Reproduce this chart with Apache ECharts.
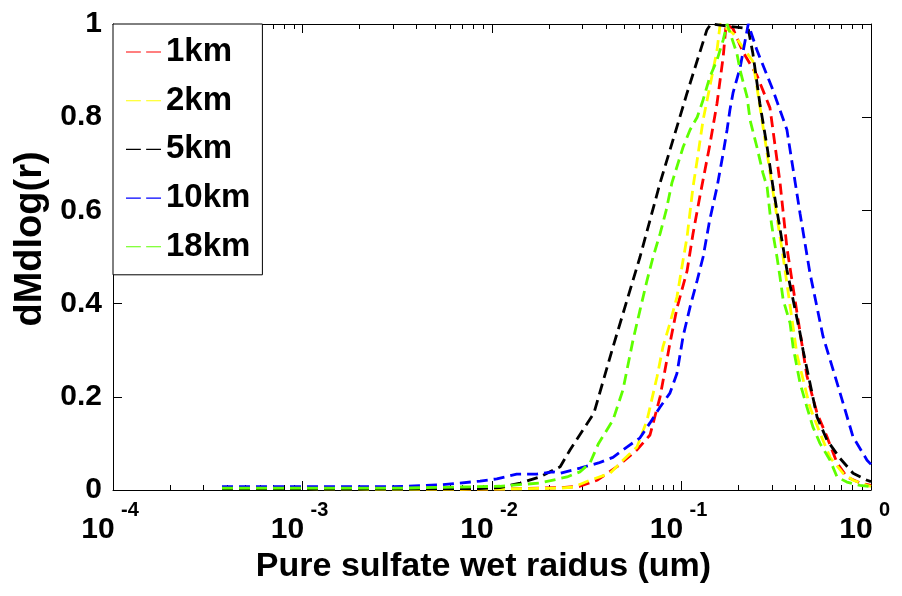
<!DOCTYPE html>
<html><head><meta charset="utf-8">
<script src="https://cdn.jsdelivr.net/npm/echarts@6/dist/echarts.min.js"></script>
<style>html,body{margin:0;padding:0;background:#fff}#c{width:902px;height:596px}</style>
</head><body><div id="c"></div>
<script>
// ---- data ----
const seriesNames = ['1km', '2km', '5km', '10km', '18km'];
const seriesColors = ['#ff0000', '#ffff00', '#000000', '#0000ff', '#5eff00'];

const r1km = [0.000376, 0.001, 0.0033, 0.011, 0.0229, 0.0291, 0.0358, 0.0457, 0.0582, 0.0682, 0.0771, 0.0869, 0.0946, 0.107, 0.115, 0.125, 0.141, 0.154, 0.166, 0.172, 0.187, 0.211, 0.250, 0.293, 0.331, 0.360, 0.407, 0.459, 0.519, 0.586, 0.662, 0.746, 0.875, 1.0];
const v1km = [0.001, 0.001, 0.001, 0.002, 0.005, 0.008, 0.021, 0.05, 0.086, 0.118, 0.2, 0.315, 0.39, 0.47, 0.55, 0.63, 0.74, 0.83, 0.93, 1.0, 0.99, 0.94, 0.89, 0.82, 0.66, 0.52, 0.38, 0.245, 0.165, 0.114, 0.058, 0.028, 0.015, 0.01];

const r2km = [0.000376, 0.001, 0.0033, 0.011, 0.0229, 0.0268, 0.0329, 0.0420, 0.0491, 0.0582, 0.0658, 0.0743, 0.0798, 0.0869, 0.0946, 0.102, 0.107, 0.115, 0.121, 0.130, 0.141, 0.154, 0.160, 0.187, 0.238, 0.250, 0.304, 0.344, 0.407, 0.476, 0.538, 0.608, 0.711, 0.804, 0.953, 1.0];
const v2km = [0.001, 0.001, 0.001, 0.002, 0.004, 0.006, 0.021, 0.036, 0.064, 0.092, 0.15, 0.243, 0.307, 0.358, 0.414, 0.494, 0.543, 0.65, 0.708, 0.794, 0.865, 0.944, 1.0, 0.98, 0.92, 0.865, 0.64, 0.50, 0.29, 0.178, 0.122, 0.07, 0.036, 0.021, 0.01, 0.008];

const r5km = [0.000376, 0.001, 0.0033, 0.0086, 0.011, 0.0141, 0.0179, 0.0229, 0.0258, 0.0345, 0.0435, 0.0604, 0.0771, 0.107, 0.136, 0.143, 0.225, 0.238, 0.259, 0.283, 0.304, 0.360, 0.422, 0.438, 0.519, 0.586, 0.686, 0.804, 0.953, 1.0];
const v5km = [0.001, 0.001, 0.002, 0.003, 0.005, 0.015, 0.028, 0.05, 0.086, 0.165, 0.307, 0.5, 0.659, 0.852, 0.987, 1.0, 0.99, 0.937, 0.83, 0.736, 0.65, 0.472, 0.337, 0.3, 0.157, 0.107, 0.068, 0.036, 0.021, 0.018];

const r10km = [0.000376, 0.00097, 0.003, 0.00532, 0.00865, 0.0106, 0.0135, 0.0172, 0.021, 0.0229, 0.0291, 0.0365, 0.0435, 0.0515, 0.0604, 0.0682, 0.0771, 0.0869, 0.0946, 0.102, 0.111, 0.121, 0.130, 0.141, 0.154, 0.166, 0.174, 0.180, 0.187, 0.204, 0.225, 0.250, 0.304, 0.360, 0.422, 0.476, 0.558, 0.662, 0.804, 0.953, 1.0];
const v10km = [0.007, 0.007, 0.007, 0.011, 0.019, 0.024, 0.034, 0.034, 0.039, 0.036, 0.047, 0.058, 0.07, 0.092, 0.112, 0.144, 0.178, 0.208, 0.25, 0.33, 0.393, 0.45, 0.5, 0.58, 0.65, 0.723, 0.773, 0.815, 0.852, 0.907, 1.0, 0.944, 0.858, 0.773, 0.594, 0.466, 0.33, 0.23, 0.114, 0.064, 0.055];

const r18km = [0.000376, 0.001, 0.0033, 0.011, 0.0179, 0.0249, 0.0291, 0.0329, 0.0365, 0.0435, 0.0491, 0.0555, 0.0604, 0.0658, 0.0708, 0.0771, 0.083, 0.089, 0.102, 0.111, 0.121, 0.130, 0.141, 0.154, 0.166, 0.174, 0.196, 0.204, 0.222, 0.230, 0.250, 0.269, 0.283, 0.293, 0.304, 0.319, 0.331, 0.344, 0.374, 0.388, 0.422, 0.459, 0.494, 0.538, 0.608, 0.662, 0.746, 0.875, 1.0];
const v18km = [0.004, 0.004, 0.004, 0.008, 0.015, 0.028, 0.039, 0.058, 0.1, 0.15, 0.215, 0.322, 0.386, 0.45, 0.5, 0.55, 0.6, 0.659, 0.736, 0.773, 0.8, 0.837, 0.886, 0.923, 0.966, 1.0, 0.937, 0.9, 0.843, 0.794, 0.736, 0.68, 0.65, 0.594, 0.55, 0.5, 0.457, 0.408, 0.358, 0.307, 0.23, 0.178, 0.135, 0.1, 0.064, 0.028, 0.017, 0.01, 0.007];

const xMin = 1e-4, xMax = 1;
const yMin = 0, yMax = 1, yInterval = 0.2;
const xTickBase = '10';
const minorTickMultipliers = [2, 3, 4, 5, 6, 7, 8, 9];
const xName = 'Pure sulfate wet raidus (um)';
const yName = 'dMdlog(r)';

// ---- chart ----
const radii = [r1km, r2km, r5km, r10km, r18km];
const values = [v1km, v2km, v5km, v10km, v18km];
const FONT = '"Liberation Sans", Arial, Helvetica, sans-serif';
const AX = '#000';
const eMin = Math.round(Math.log10(xMin)), eMax = Math.round(Math.log10(xMax));

const minorVals = [];
for (let e = eMin; e < eMax; e++) {
  for (const m of minorTickMultipliers) minorVals.push(e + Math.log10(m));
}

const gridRect = { left: 113, right: 31, top: 24, bottom: 106, containLabel: false, outerBoundsMode: 'none' };
const axLine = { show: true, onZero: false, lineStyle: { color: AX, width: 1 } };

const chart = echarts.init(document.getElementById('c'), null, { renderer: 'canvas' });
chart.setOption({
  animation: false,
  backgroundColor: '#fff',
  textStyle: { fontFamily: FONT },
  grid: [Object.assign({}, gridRect), Object.assign({}, gridRect)],
  xAxis: [
    {
      type: 'log', logBase: 10, min: xMin, max: xMax, gridIndex: 0, position: 'bottom',
      axisLine: axLine,
      axisTick: { show: true, inside: true, length: 9, lineStyle: { color: AX } },
      splitLine: { show: false },
      axisLabel: {
        margin: 25, formatter: () => xTickBase,
        fontSize: 30, fontWeight: 'bold', color: '#000', fontFamily: FONT, lineHeight: 30,
        align: 'center', padding: [0, 30, 0, 0]
      },
      name: xName, nameLocation: 'middle', nameGap: 56,
      nameTextStyle: { fontSize: 34, fontWeight: 'bold', color: '#000', fontFamily: FONT, padding: [0, 17, 0, 0] }
    },
    {
      type: 'log', logBase: 10, min: xMin, max: xMax, gridIndex: 0, position: 'top',
      axisLine: axLine,
      axisTick: { show: true, inside: true, length: 9, lineStyle: { color: AX } },
      splitLine: { show: false }, axisLabel: { show: false }
    },
    {
      // exponent labels (log10 of the decade) and minor ticks
      type: 'value', min: eMin, max: eMax, interval: 1, gridIndex: 1, position: 'bottom',
      axisLine: { show: false }, splitLine: { show: false },
      axisLabel: {
        show: true, margin: 10, formatter: v => String(Math.round(v)),
        fontSize: 20, fontWeight: 'bold', color: '#000', fontFamily: FONT, lineHeight: 20,
        align: 'left', padding: [0, 0, 0, 8]
      },
      axisTick: { show: true, inside: true, length: 5, customValues: minorVals, lineStyle: { color: AX } }
    },
    {
      type: 'value', min: eMin, max: eMax, gridIndex: 1, position: 'top',
      axisLine: { show: false }, axisLabel: { show: false }, splitLine: { show: false },
      axisTick: { show: true, inside: true, length: 5, customValues: minorVals, lineStyle: { color: AX } }
    }
  ],
  yAxis: [
    {
      type: 'value', min: yMin, max: yMax, interval: yInterval, gridIndex: 0, position: 'left',
      axisLine: axLine,
      axisTick: { show: true, inside: true, length: 9, lineStyle: { color: AX } },
      splitLine: { show: false },
      axisLabel: { fontSize: 30, fontWeight: 'bold', color: '#000', fontFamily: FONT, margin: 11 },
      name: yName, nameLocation: 'middle', nameGap: 50, nameRotate: 90,
      nameTextStyle: { fontSize: 38, fontWeight: 'bold', color: '#000', fontFamily: FONT, padding: [0, 0, 0, 36] }
    },
    {
      type: 'value', min: yMin, max: yMax, interval: yInterval, gridIndex: 0, position: 'right',
      axisLine: axLine,
      axisTick: { show: true, inside: true, length: 9, lineStyle: { color: AX } },
      splitLine: { show: false }, axisLabel: { show: false }
    },
    { type: 'value', min: 0, max: 1, gridIndex: 1, show: false }
  ],
  legend: {
    data: seriesNames,
    orient: 'vertical', left: 113, top: 24,
    padding: [10, 12, 10, 13], itemGap: 12.7,
    itemWidth: 35, itemHeight: 2.5,
    icon: 'path://M0,0H14V1H0ZM19,0H33V1H19Z',
    backgroundColor: '#fff', borderColor: '#000', borderWidth: 1, borderRadius: 0,
    textStyle: { fontSize: 33, fontWeight: 'bold', color: '#000', fontFamily: FONT, lineHeight: 36 },
    selectedMode: false
  },
  series: seriesNames.map((name, i) => ({
    name: name, type: 'line', xAxisIndex: 0, yAxisIndex: 0,
    data: radii[i].map((r, j) => [r, values[i][j]]),
    symbol: 'none', showSymbol: false, clip: true,
    lineStyle: { color: seriesColors[i], width: 2.8, type: [11, 6] },
    itemStyle: { color: seriesColors[i] }
  }))
});
</script>
</body></html>
